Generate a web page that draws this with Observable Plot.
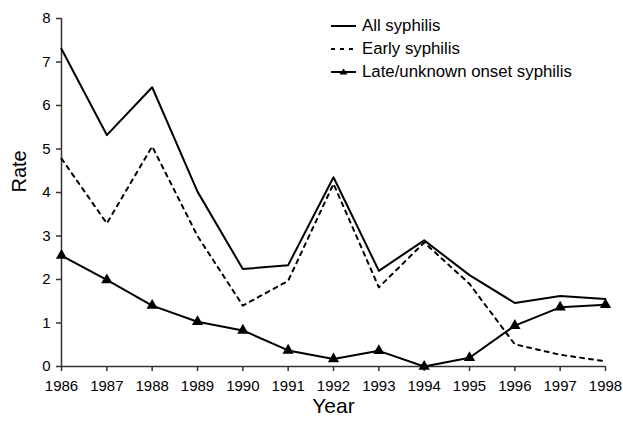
<!DOCTYPE html>
<html><head><meta charset="utf-8">
<script src="https://cdn.jsdelivr.net/npm/d3@7"></script>
<script src="https://cdn.jsdelivr.net/npm/@observablehq/plot@0.6"></script>
<style>
body{margin:0;background:#fff;font-family:"Liberation Sans",Arial,sans-serif}
#wrap{position:relative;width:623px;height:425px}
.legend{position:absolute;left:331px;top:14px;font-size:16.8px;color:#000}
.row{height:23px;display:flex;align-items:center}
.row svg{margin-right:5px}
</style></head>
<body><div id="wrap"></div>
<script>
const years = [1986,1987,1988,1989,1990,1991,1992,1993,1994,1995,1996,1997,1998];
const allSyphilis = [7.3,5.32,6.42,4.02,2.24,2.33,4.35,2.2,2.9,2.1,1.46,1.62,1.55];
const earlySyphilis = [4.78,3.29,5.06,3.0,1.4,1.97,4.2,1.82,2.85,1.9,0.51,0.27,0.12];
const lateSyphilis = [2.55,1.99,1.4,1.03,0.83,0.37,0.17,0.36,0.0,0.2,0.94,1.36,1.42];
const yTicks = [0,1,2,3,4,5,6,7,8];
const seriesNames = ["All syphilis","Early syphilis","Late/unknown onset syphilis"];

const rows = (vals) => years.map((y,i)=>({year:y, rate:vals[i]}));
const allData = rows(allSyphilis), earlyData = rows(earlySyphilis), lateData = rows(lateSyphilis);

const plot = Plot.plot({
  width:623, height:425,
  marginLeft:61, marginRight:18, marginTop:18, marginBottom:59,
  style:{fontFamily:"Liberation Sans, Arial, sans-serif", fontSize:"15px", background:"#fff", color:"#000", overflow:"visible"},
  x:{type:"linear", domain:[1986,1998]},
  y:{domain:[0,8]},
  marks:[
    Plot.axisY({ticks:yTicks, tickSize:5, tickPadding:6, fontSize:15, label:null, stroke:"#333", strokeWidth:1.5}),
    Plot.axisX({ticks:years, tickFormat:"d", tickSize:5, tickPadding:9, fontSize:15, label:null, stroke:"#333", strokeWidth:1.5}),
    Plot.ruleX([1986], {stroke:"#333", strokeWidth:1.5}),
    Plot.ruleY([0], {stroke:"#333", strokeWidth:1.5}),
    Plot.line(allData, {x:"year", y:"rate", stroke:"#000", strokeWidth:2}),
    Plot.line(earlyData, {x:"year", y:"rate", stroke:"#000", strokeWidth:2, strokeDasharray:"4,5"}),
    Plot.line(lateData, {x:"year", y:"rate", stroke:"#000", strokeWidth:2}),
    Plot.dot(lateData, {x:"year", y:"rate", symbol:"triangle", fill:"#000", r:4.2}),
    Plot.text(["Year"], {frameAnchor:"bottom", dy:46, fontSize:21}),
    Plot.text(["Rate"], {frameAnchor:"left", dx:-42, rotate:-90, fontSize:20})
  ]
});
const wrap = document.getElementById("wrap");
wrap.appendChild(plot);

const legend = document.createElement("div");
legend.className = "legend";
const samples = [
  '<line x1="0" y1="5" x2="25" y2="5" stroke="#000" stroke-width="2"/>',
  '<line x1="0" y1="5" x2="25" y2="5" stroke="#000" stroke-width="2" stroke-dasharray="4,5"/>',
  '<line x1="0" y1="5" x2="25" y2="5" stroke="#000" stroke-width="2"/><path d="M12.5,1.5 L16.5,7.5 L8.5,7.5 Z" fill="#000"/>'
];
seriesNames.forEach((n,i)=>{
  const r = document.createElement("div");
  r.className = "row";
  r.innerHTML = `<svg width="26" height="10">${samples[i]}</svg><span>${n}</span>`;
  legend.appendChild(r);
});
wrap.appendChild(legend);
</script></body></html>
